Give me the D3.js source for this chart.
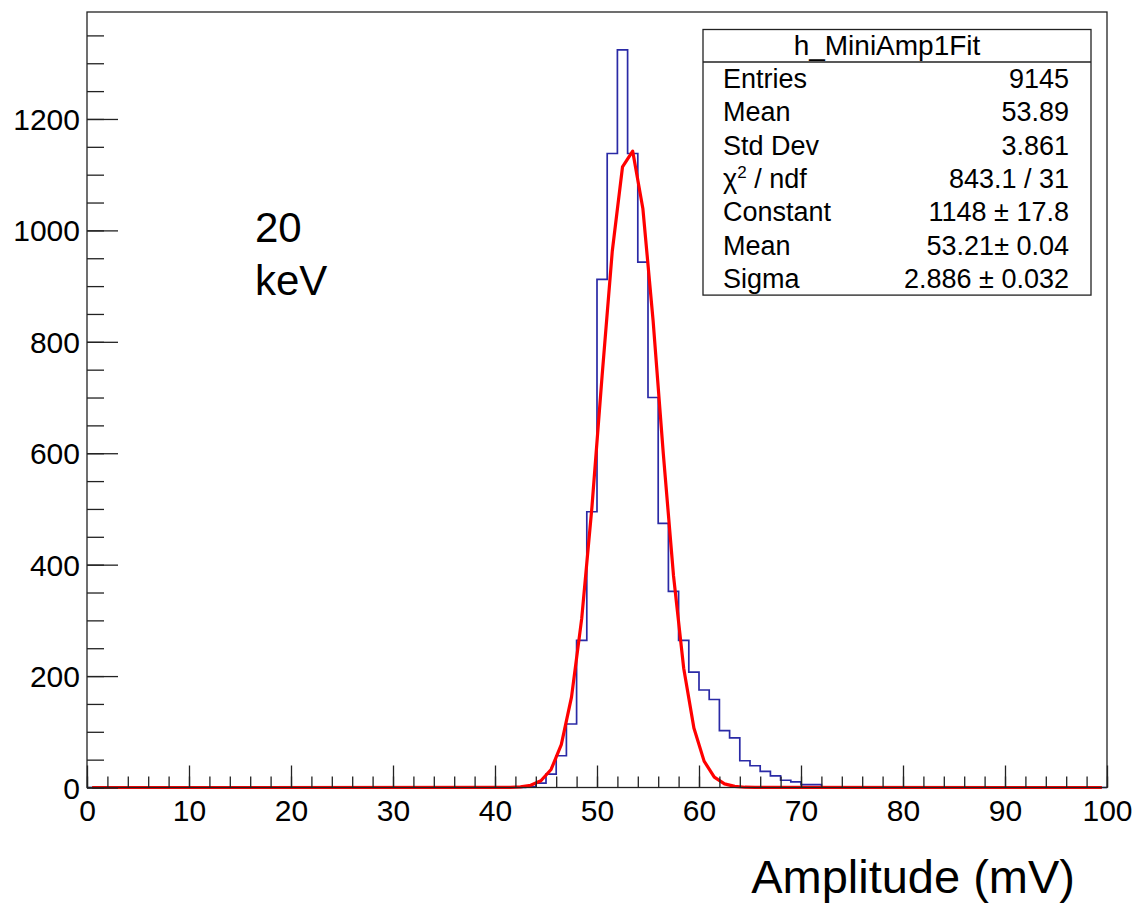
<!DOCTYPE html>
<html>
<head>
<meta charset="utf-8">
<script src="https://cdn.jsdelivr.net/npm/d3@7"></script>
<style>
  html, body { margin: 0; padding: 0; background: #ffffff; }
  svg { display: block; font-family: "Liberation Sans", Arial, Helvetica, sans-serif; }
</style>
</head>
<body>
<svg id="chart" width="1137" height="906"></svg>
<script>
// ---------------- DATA ----------------
// Histogram: 100 bins of width 1 mV from 0 to 100; counts for bins with low edge 40..74
const binLowEdges = [40, 41, 42, 43, 44, 45, 46, 47, 48, 49, 50, 51, 52, 53, 54, 55, 56, 57, 58, 59,
                     60, 61, 62, 63, 64, 65, 66, 67, 68, 69, 70, 71, 72, 73, 74];
const binCounts   = [0, 0, 0, 1, 8, 24, 57, 114, 264, 495, 912, 1138, 1324, 1138, 943, 700, 474, 352, 264, 207,
                     175, 158, 102, 89, 48, 39, 29, 21, 13, 10, 5, 5, 1, 0, 0];
const histRange = [0, 100];

// Gaussian fit curve as drawn (sampled at bin centres)
const fitX = [0.5, 40.5, 41.5, 42.5, 43.5, 44.5, 45.5, 46.5, 47.5, 48.5, 49.5, 50.5, 51.5, 52.5, 53.5,
              54.5, 55.5, 56.5, 57.5, 58.5, 59.5, 60.5, 61.5, 62.5, 63.5, 64.5, 65.5, 99.5];
const fitY = [0, 0.07, 0.3, 1.2, 4.0, 12.1, 32.4, 76.9, 162.2, 303.1, 502.6, 738.7, 963.1, 1113.8, 1142.2,
              1038.8, 838.0, 599.5, 380.3, 214.0, 106.8, 47.3, 18.6, 6.5, 2.0, 0.5, 0.1, 0];

const xMajorTicks = [0, 10, 20, 30, 40, 50, 60, 70, 80, 90, 100];
const xMinorTicks = d3.range(0, 101, 2);
const yMajorTicks = [0, 200, 400, 600, 800, 1000, 1200];
const yMinorTicks = d3.range(0, 1391, 50);
const yMax = 1392;

const statsTitle = "h_MiniAmp1Fit";
const statsLabels = ["Entries", "Mean", "Std Dev", "CHI2", "Constant", "Mean", "Sigma"];
const statsValues = ["9145", "53.89", "3.861", "843.1 / 31", "1148 \u00b1 17.8", "53.21\u00b1 0.04", "2.886 \u00b1 0.032"];

const annotationLines = ["20", "keV"];
const xAxisTitle = "Amplitude (mV)";

// ---------------- DRAW ----------------
const svg = d3.select("#chart");
svg.append("rect").attr("width", 1137).attr("height", 906).attr("fill", "#ffffff");

const frame = { left: 87, right: 1107, top: 12, bottom: 787.5 };
const x = d3.scaleLinear().domain(histRange).range([frame.left, frame.right]);
const y = d3.scaleLinear().domain([0, yMax]).range([frame.bottom, frame.top]);

// Histogram outline (full 0..100 range)
const histPts = [];
histPts.push([histRange[0], 0]);
binLowEdges.forEach((e, i) => histPts.push([e, binCounts[i]]));
histPts.push([binLowEdges[binLowEdges.length - 1] + 1, 0]);
histPts.push([histRange[1], 0]);
const histLine = d3.line().x(d => x(d[0])).y(d => y(d[1])).curve(d3.curveStepAfter);
svg.append("path")
  .attr("d", histLine(histPts))
  .attr("fill", "none")
  .attr("stroke", "#2a2aa6")
  .attr("stroke-width", 1.7);

// Fit curve
const fitLine = d3.line().x((d, i) => x(fitX[i])).y(d => y(d));
svg.append("path")
  .attr("d", fitLine(fitY))
  .attr("fill", "none")
  .attr("stroke", "#ff0000")
  .attr("stroke-width", 3.2)
  .attr("stroke-linejoin", "round");

// Axes
const axisColor = "#222222";
const gx = svg.append("g").attr("transform", `translate(0,${frame.bottom})`);
gx.call(d3.axisBottom(x).tickValues(xMinorTicks).tickSize(-11).tickFormat(""));
const gxMaj = svg.append("g").attr("transform", `translate(0,${frame.bottom})`);
gxMaj.call(d3.axisBottom(x).tickValues(xMajorTicks).tickSize(-22).tickPadding(12).tickFormat(d3.format("d")));
const gy = svg.append("g").attr("transform", `translate(${frame.left},0)`);
gy.call(d3.axisLeft(y).tickValues(yMinorTicks).tickSize(-17).tickFormat(""));
const gyMaj = svg.append("g").attr("transform", `translate(${frame.left},0)`);
gyMaj.call(d3.axisLeft(y).tickValues(yMajorTicks).tickSize(-31).tickPadding(7).tickFormat(d3.format("d")));

[gx, gxMaj, gy, gyMaj].forEach(g => {
  g.select(".domain").remove();
  g.selectAll(".tick line").attr("stroke", axisColor).attr("stroke-width", 1.3);
  g.selectAll("text").attr("fill", "#000").attr("font-size", 30)
    .attr("font-family", '"Liberation Sans", Arial, Helvetica, sans-serif');
});
gyMaj.selectAll("text").attr("dy", "0.35em");

// Frame
svg.append("rect")
  .attr("x", frame.left).attr("y", frame.top)
  .attr("width", frame.right - frame.left).attr("height", frame.bottom - frame.top)
  .attr("fill", "none").attr("stroke", axisColor).attr("stroke-width", 1.3);

// Stats box
const box = { x: 703, y: 29.5, w: 388, titleH: 32.5, rowH: 33.3 };
const boxH = box.titleH + box.rowH * statsLabels.length;
svg.append("rect").attr("x", box.x).attr("y", box.y).attr("width", box.w).attr("height", boxH)
  .attr("fill", "#ffffff").attr("stroke", axisColor).attr("stroke-width", 1.3);
svg.append("line").attr("x1", box.x).attr("x2", box.x + box.w)
  .attr("y1", box.y + box.titleH).attr("y2", box.y + box.titleH)
  .attr("stroke", axisColor).attr("stroke-width", 1.3);
svg.append("text").attr("x", box.x + box.w / 2 - 10).attr("y", box.y + box.titleH / 2 + 9.5)
  .attr("text-anchor", "middle").attr("font-size", 28).text(statsTitle);

statsLabels.forEach((lab, i) => {
  const cy = box.y + box.titleH + box.rowH * (i + 0.5) + 9.5;
  const t = svg.append("text").attr("x", 723).attr("y", cy).attr("font-size", 27);
  if (lab === "CHI2") {
    t.append("tspan").text("\u03c7");
    t.append("tspan").attr("font-size", 17).attr("dy", -10).text("2");
    t.append("tspan").attr("dy", 10).text(" / ndf");
  } else {
    t.text(lab);
  }
  svg.append("text").attr("x", 1069).attr("y", cy).attr("text-anchor", "end")
    .attr("font-size", 27).text(statsValues[i]);
});

// Annotation
annotationLines.forEach((s, i) => {
  svg.append("text").attr("x", 255).attr("y", 242 + i * 53).attr("font-size", 42).text(s);
});

// X axis title
svg.append("text").attr("x", 1075).attr("y", 893).attr("text-anchor", "end")
  .attr("font-size", 47).text(xAxisTitle);
</script>
</body>
</html>
